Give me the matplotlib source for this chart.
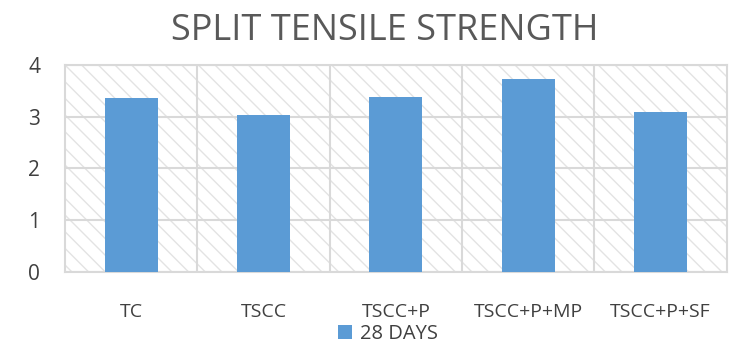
import matplotlib
matplotlib.use("Agg")
import matplotlib.pyplot as plt
from matplotlib.patches import Rectangle

categories = ["TC", "TSCC", "TSCC+P", "TSCC+P+MP", "TSCC+P+SF"]
values_28 = [3.36, 3.04, 3.37, 3.73, 3.09]
series_name = "28 DAYS"
yticks = [0, 1, 2, 3, 4]

plt.rcParams['font.family'] = ['Open Sans', 'DejaVu Sans']
plt.rcParams['hatch.linewidth'] = 1.0
plt.rcParams['hatch.color'] = '#e3e3e3'

fig = plt.figure(figsize=(7.32, 3.43), dpi=100)
ax = fig.add_axes([0.0888, 0.207, 0.904, 0.604])

bg = Rectangle((0, 0), 1, 1, transform=ax.transAxes, facecolor='white',
               edgecolor='#e3e3e3', hatch='\\\\', linewidth=0, zorder=0)
ax.add_patch(bg)

x = list(range(len(categories)))
ax.bar(x, values_28, width=0.4, color='#5b9bd5', zorder=3, label=series_name)

ax.set_xlim(-0.5, len(categories) - 0.5)
ax.set_ylim(0, 4)
ax.set_yticks(yticks)
ax.set_yticklabels([str(v) for v in yticks])
ax.set_xticks(x)
ax.set_xticklabels(categories)

for b in [i + 0.5 for i in range(len(categories) - 1)]:
    ax.axvline(b, color='#d9d9d9', lw=1.5, zorder=1)
ax.yaxis.grid(True, color='#d9d9d9', lw=1.5, zorder=1)
ax.set_axisbelow(True)

for s in ax.spines.values():
    s.set_color('#d9d9d9')
    s.set_linewidth(1.5)

ax.tick_params(axis='both', length=0, colors='#404040')
ax.tick_params(axis='x', pad=22, labelsize=14)
ax.tick_params(axis='y', pad=18, labelsize=15)

fig.text(0.525, 0.91, "SPLIT TENSILE STRENGTH", ha='center', va='center',
         fontsize=26, color='#595959')

leg = fig.legend(loc='center', bbox_to_anchor=(0.53, 0.025), frameon=False,
                 fontsize=14.5, handlelength=0.7, handleheight=0.7, handletextpad=0.4,
                 borderpad=0)
for t in leg.get_texts():
    t.set_color('#404040')

fig.savefig("out.png", dpi=100)
